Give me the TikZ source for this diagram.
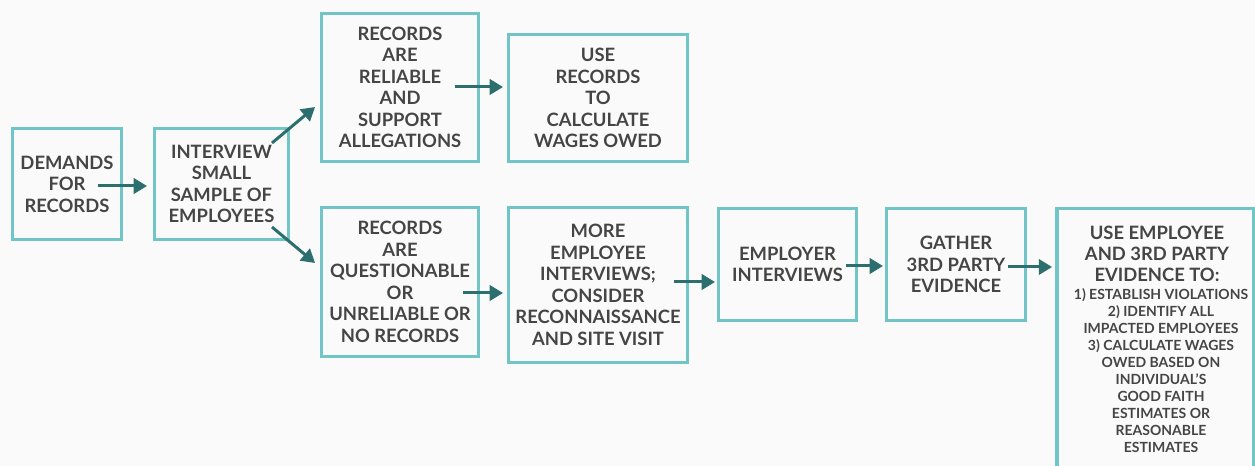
\documentclass[tikz,border=0pt]{standalone}
\usepackage{fontspec}
\setmainfont{Lato}
\usetikzlibrary{arrows.meta}
\definecolor{boxc}{HTML}{72C5C6}
\definecolor{arrc}{HTML}{2D6E6F}
\definecolor{txtc}{HTML}{454545}
\definecolor{bgc}{HTML}{FAFAFA}
\newcommand{\pxu}{0.75pt}
\begin{document}
\begin{tikzpicture}[x=0.75pt,y=-0.75pt,
  box/.style={draw=boxc, line width=2.6pt, inner sep=0pt, align=center, text=txtc,
    font=\fontsize{13.8}{16.1}\selectfont\bfseries},
  txt/.style={inner sep=0pt, align=center, text=txtc},
  arr/.style={draw=arrc, line width=2.25pt, -{Triangle[length=10pt,width=11.5pt]}}]
\fill[bgc] (0,0) rectangle (1255,466);
\useasboundingbox (0,0) rectangle (1255,466);

\node[box, minimum width=108.5*\pxu, minimum height=110.5*\pxu] (b1) at (67,184) {DEMANDS\\FOR\\RECORDS};
\node[box, minimum width=133.5*\pxu, minimum height=110.5*\pxu] (b2) at (221.5,184) {INTERVIEW\\SMALL\\SAMPLE OF\\EMPLOYEES};
\node[box, minimum width=156.5*\pxu, minimum height=147.5*\pxu] (b3) at (400,87.5) {RECORDS\\ARE\\RELIABLE\\AND\\SUPPORT\\ALLEGATIONS};
\node[box, minimum width=178.5*\pxu, minimum height=126.5*\pxu] (b4) at (598,98) {USE\\RECORDS\\TO\\CALCULATE\\WAGES OWED};
\node[box, minimum width=156.5*\pxu, minimum height=148.5*\pxu] (b5) at (400,282) {RECORDS\\ARE\\QUESTIONABLE\\OR\\UNRELIABLE OR\\NO RECORDS};
\node[box, minimum width=178.5*\pxu, minimum height=154.5*\pxu] (b6) at (598,285) {MORE\\EMPLOYEE\\INTERVIEWS;\\CONSIDER\\RECONNAISSANCE\\AND SITE VISIT};
\node[box, minimum width=137.5*\pxu, minimum height=111.5*\pxu] (b7) at (787.5,264.5) {EMPLOYER\\INTERVIEWS};
\node[box, minimum width=138.5*\pxu, minimum height=111.5*\pxu] (b8) at (956,264.5) {GATHER\\3RD PARTY\\EVIDENCE};
\node[box, minimum width=196.5*\pxu, minimum height=267*\pxu] (b9) at (1155,342) {};
\node[txt, font=\fontsize{13.8}{16}\selectfont\bfseries] (t9a) at (1157,254) {USE EMPLOYEE\\AND 3RD PARTY\\EVIDENCE TO:};
\node[txt, font=\fontsize{10.5}{12.75}\selectfont\bfseries] (t9b) at (1161,370.5) {1) ESTABLISH VIOLATIONS\\2) IDENTIFY ALL\\IMPACTED EMPLOYEES\\3) CALCULATE WAGES\\OWED BASED ON\\INDIVIDUAL’S\\GOOD FAITH\\ESTIMATES OR\\REASONABLE\\ESTIMATES};

\coordinate (s1) at (98,186);
\coordinate (s2) at (272,143);
\coordinate (e2) at (315,107);
\coordinate (s3) at (272,227);
\coordinate (e3) at (315,263);
\coordinate (s4) at (455,87);
\coordinate (s5) at (463,293);
\coordinate (s6) at (674,282);
\coordinate (s7) at (846,266);
\coordinate (s8) at (1008,267);

\draw[arr, shorten >=4.5pt] (s1) -- (s1 -| b2.west);
\draw[arr] (s2) -- (e2);
\draw[arr] (s3) -- (e3);
\draw[arr, shorten >=3pt] (s4) -- (s4 -| b4.west);
\draw[arr, shorten >=3pt] (s5) -- (s5 -| b6.west);
\draw[arr, shorten >=1.5pt] (s6) -- (s6 -| b7.west);
\draw[arr, shorten >=1.5pt] (s7) -- (s7 -| b8.west);
\draw[arr, shorten >=2.2pt] (s8) -- (s8 -| b9.west);
\end{tikzpicture}
\end{document}
